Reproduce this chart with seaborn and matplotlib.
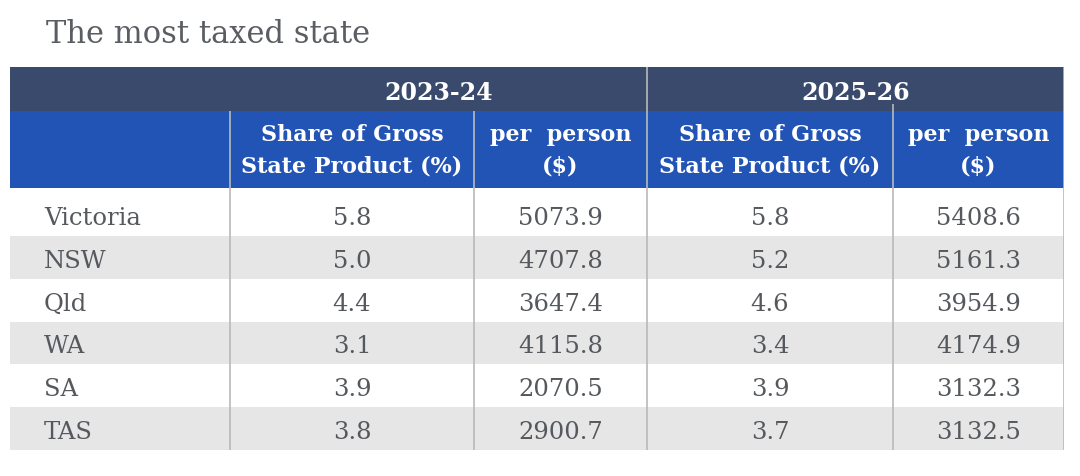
import numpy as np
import pandas as pd
import matplotlib
matplotlib.use("Agg")
import matplotlib.pyplot as plt
import seaborn as sns

# ---------------- DATA ----------------
title = "The most taxed state"
years = ["2023-24", "2025-26"]
sub_headers = [["Share of Gross", "State Product (%)"], ["per  person", "($)"]]
states = ["Victoria", "NSW", "Qld", "WA", "SA", "TAS"]
gsp_2324 = [5.8, 5.0, 4.4, 3.1, 3.9, 3.8]
pp_2324 = [5073.9, 4707.8, 3647.4, 4115.8, 2070.5, 2900.7]
gsp_2526 = [5.8, 5.2, 4.6, 3.4, 3.9, 3.7]
pp_2526 = [5408.6, 5161.3, 3954.9, 4174.9, 3132.3, 3132.5]

df = pd.DataFrame({
    "state": states,
    "gsp_2324": gsp_2324,
    "pp_2324": pp_2324,
    "gsp_2526": gsp_2526,
    "pp_2526": pp_2526,
})

# ---------------- STYLE ----------------
sns.set_theme(style="white")
plt.rcParams["font.family"] = ["DejaVu Serif", "DejaVu Sans"]

DARK = "#3a4a6d"
BLUE = "#2254b5"
STRIPE = "#e6e6e6"
TEXT = "#55595d"
GRID = "#b9b9b9"

# layout (axes units, pixel-like)
col_edges = [0, 220, 464, 637, 883, 1054]
top_h, sub_h = 44, 77
row_heights = [48] + [42.8] * (len(df) - 1)
data_top = top_h + sub_h
row_edges = data_top + np.concatenate([[0], np.cumsum(row_heights)])
total_h = row_edges[-1]

fig = plt.figure(figsize=(10.8, 4.76), dpi=100)
fig.text(46 / 1080, 1 - 43 / 476, title, fontsize=22, color="#5a5e62",
         ha="left", va="baseline")

ax = fig.add_axes([10 / 1080, 1 - (67 + total_h) / 476, 1054 / 1080, total_h / 476])
ax.set_xlim(col_edges[0], col_edges[-1])
ax.set_ylim(total_h, 0)
ax.axis("off")

# header bands
ax.axhspan(0, top_h, color=DARK, lw=0)
ax.axhspan(top_h, data_top, color=BLUE, lw=0)

# zebra stripes
for i in range(len(df)):
    if i % 2 == 1:
        ax.axhspan(row_edges[i], row_edges[i + 1], color=STRIPE, lw=0)

# year headers
for k, yr in enumerate(years):
    xc = (col_edges[1 + 2 * k] + col_edges[3 + 2 * k]) / 2
    ax.text(xc, 33, yr, ha="center", va="baseline", color="white",
            fontsize=17, fontweight="bold")

# sub headers (two lines each)
for j in range(4):
    xc = (col_edges[j + 1] + col_edges[j + 2]) / 2
    for ln, line in enumerate(sub_headers[j % 2]):
        ax.text(xc, top_h + 30 + ln * 32, line, ha="center", va="baseline",
                color="white", fontsize=16, fontweight="bold")

# body
value_cols = ["gsp_2324", "pp_2324", "gsp_2526", "pp_2526"]
for i, row in df.iterrows():
    yb = row_edges[i + 1] - 11
    ax.text(34, yb, row["state"], ha="left", va="baseline", color=TEXT, fontsize=17.5)
    for j, c in enumerate(value_cols):
        xc = (col_edges[j + 1] + col_edges[j + 2]) / 2
        ax.text(xc, yb, f"{row[c]:.1f}", ha="center", va="baseline",
                color=TEXT, fontsize=17.5)

# separators
for x in col_edges[1:5]:
    ax.vlines(x, top_h, total_h, color=GRID, lw=1.2)
ax.vlines(col_edges[3], 0, top_h, color=GRID, lw=1.2)
ax.vlines(col_edges[4], top_h - 7, top_h, color=GRID, lw=1.2)
ax.vlines(col_edges[-1] - 0.5, 0, total_h, color=GRID, lw=1.2)

fig.savefig("out.png", dpi=100)
